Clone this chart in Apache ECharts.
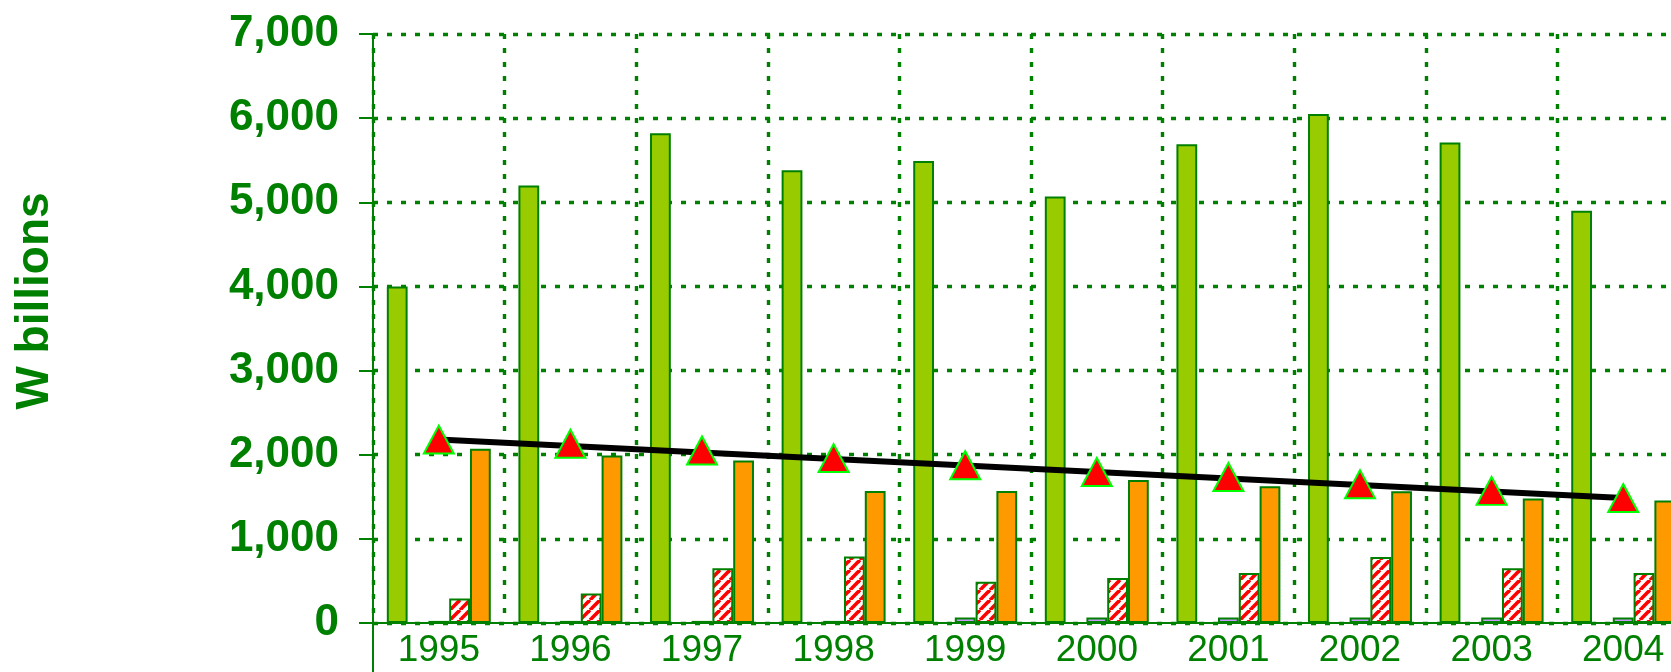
<!DOCTYPE html>
<html><head><meta charset="utf-8">
<script src="https://cdn.jsdelivr.net/npm/echarts@6/dist/echarts.min.js"></script>
<style>html,body{margin:0;padding:0;background:#fff}#chart{width:1671px;height:672px}</style>
</head><body><div id="chart"></div>
<script>
// ---- data ----
const years = ['1995','1996','1997','1998','1999','2000','2001','2002','2003','2004'];
const greenValues = [4000, 5200, 5820, 5380, 5490, 5070, 5690, 6050, 5710, 4900];
const blankValues = ['-', '-', '-', '-', '-', '-', '-', '-', '-', '-'];
const purpleValues = [25, 25, 25, 25, 65, 65, 65, 65, 65, 65];
const hatchValues = [290, 350, 650, 790, 490, 535, 595, 785, 650, 595];
const orangeValues = [2070, 1990, 1930, 1570, 1570, 1700, 1625, 1565, 1480, 1455];
const triangleValues = [2180, 2130, 2050, 1960, 1875, 1795, 1735, 1650, 1570, 1485];
const trendStart = 2180;
const trendEnd = 1485;
const yMin = 0, yMax = 7000, yStep = 1000;
const yTitle = 'W billions';

// ---- styling ----
const GREEN = '#008000';
function hatchPattern() {
  const c = document.createElement('canvas');
  c.width = 10; c.height = 10;
  const g = c.getContext('2d');
  g.fillStyle = '#ffffff'; g.fillRect(0, 0, 10, 10);
  g.strokeStyle = '#ff0000'; g.lineWidth = 3.6;
  for (const k of [-10, 0, 10]) {
    g.beginPath(); g.moveTo(k, 10); g.lineTo(k + 10, 0); g.stroke();
  }
  return c;
}
const chart = echarts.init(document.getElementById('chart'));
const barBase = { type: 'bar', barGap: '0%', barCategoryGap: '21%', animation: false };
const gridDash = { color: GREEN, width: 3.4, type: [5, 9] };
chart.setOption({
  animation: false,
  grid: { left: 373, top: 34, width: 1316, height: 589, containLabel: false, outerBoundsMode: 'none' },
  graphic: [{
    type: 'text', x: 35, y: 301, rotation: Math.PI / 2,
    style: { text: yTitle, font: 'bold 46px "Liberation Sans", Arial, sans-serif', fill: GREEN, align: 'center', verticalAlign: 'middle' }
  }],
  xAxis: {
    type: 'category', data: years, boundaryGap: true,
    axisLine: { lineStyle: { color: GREEN, width: 2 } },
    axisTick: { show: true, interval: function (i) { return i === 0; }, length: 50, lineStyle: { color: GREEN, width: 2 } },
    axisLabel: { color: GREEN, fontSize: 37, fontFamily: '"Liberation Sans", Arial, sans-serif', margin: 9 },
    splitLine: { show: true, lineStyle: gridDash }
  },
  yAxis: {
    type: 'value', min: yMin, max: yMax, interval: yStep,
    axisLine: { show: true, lineStyle: { color: GREEN, width: 2 } },
    axisTick: { show: true, length: 14, lineStyle: { color: GREEN, width: 2 } },
    axisLabel: {
      color: GREEN, fontSize: 44, fontWeight: 'bold', fontFamily: '"Liberation Sans", Arial, sans-serif', margin: 34,
      formatter: v => v.toLocaleString('en-US')
    },
    splitLine: { show: true, lineStyle: gridDash }
  },
  series: [
    Object.assign({}, barBase, { name: 'green', data: greenValues, itemStyle: { color: '#99CC00', borderColor: GREEN, borderWidth: 2 } }),
    Object.assign({}, barBase, { name: 'blank', data: blankValues, itemStyle: { color: '#ffffff', borderColor: GREEN, borderWidth: 2 } }),
    Object.assign({}, barBase, { name: 'purple', data: purpleValues, itemStyle: { color: '#CC99FF', borderColor: GREEN, borderWidth: 2 } }),
    Object.assign({}, barBase, { name: 'hatched', data: hatchValues, itemStyle: { color: { image: hatchPattern(), repeat: 'repeat' }, borderColor: GREEN, borderWidth: 2 } }),
    Object.assign({}, barBase, { name: 'orange', data: orangeValues, itemStyle: { color: '#FF9900', borderColor: GREEN, borderWidth: 2 } }),
    {
      type: 'line', name: 'triangles', data: triangleValues, z: 4,
      lineStyle: { width: 0, opacity: 0 },
      symbol: 'triangle', symbolSize: [30, 28],
      itemStyle: { color: '#FF0000', borderColor: '#00FF00', borderWidth: 2 },
      markLine: {
        z: 3, silent: true, symbol: ['none', 'none'], label: { show: false },
        lineStyle: { color: '#000000', width: 6, type: 'solid' },
        data: [[{ coord: [years[0], trendStart] }, { coord: [years[years.length - 1], trendEnd] }]]
      }
    }
  ]
});
</script>
</body></html>
